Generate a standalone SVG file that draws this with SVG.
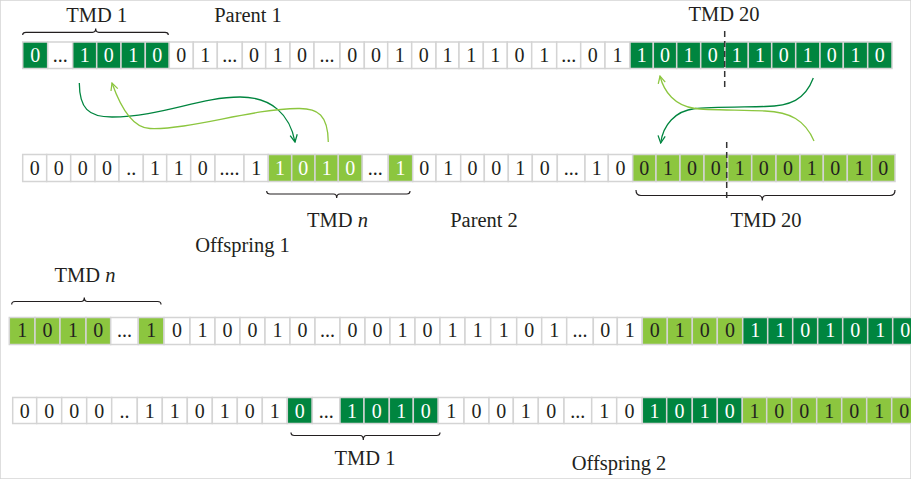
<svg xmlns="http://www.w3.org/2000/svg" width="911" height="479" viewBox="0 0 911 479">
<style>
rect{stroke:#d4d4d4;stroke-width:1.5}
.w{fill:#fff}.d{fill:#00853f}.l{fill:#8cc63f}
text{font-family:"Liberation Serif","Times New Roman",serif;text-anchor:middle}
.cells text{font-size:20px;fill:#231f20}
.cells text.v{fill:#fff}
.lab{font-size:20.5px;fill:#231f20}
.br{fill:none;stroke:#231f20;stroke-width:1.2}
.dash{stroke:#333;stroke-width:1.5;stroke-dasharray:6 4}
.cd{fill:none;stroke:#00853f;stroke-width:1.3}
.cl{fill:none;stroke:#8cc63f;stroke-width:1.3}
</style>
<defs>
<marker id="ad" viewBox="0 0 10 10" refX="9" refY="5" markerWidth="9" markerHeight="9" markerUnits="userSpaceOnUse" orient="auto"><path d="M1,1 L9,5 L1,9" fill="none" stroke="#00853f" stroke-width="1.4"/></marker>
<marker id="al" viewBox="0 0 10 10" refX="9" refY="5" markerWidth="9" markerHeight="9" markerUnits="userSpaceOnUse" orient="auto"><path d="M1,1 L9,5 L1,9" fill="none" stroke="#8cc63f" stroke-width="1.4"/></marker>
</defs>
<rect x="0" y="0" width="911" height="479" fill="#fff" stroke="none"/>

<g id="row1" class="cells" transform="translate(0,42)">
<rect class="d" x="22.7" y="0" width="25" height="26.5"/><text class="v" x="35.2" y="19.5">0</text>
<rect class="w" x="47.7" y="0" width="25" height="26.5"/><text x="60.2" y="19.5">...</text>
<rect class="d" x="72.7" y="0" width="24" height="26.5"/><text class="v" x="84.7" y="19.5">1</text>
<rect class="d" x="96.7" y="0" width="24.3" height="26.5"/><text class="v" x="108.85" y="19.5">0</text>
<rect class="d" x="121" y="0" width="24.3" height="26.5"/><text class="v" x="133.15" y="19.5">1</text>
<rect class="d" x="145.3" y="0" width="24" height="26.5"/><text class="v" x="157.3" y="19.5">0</text>
<rect class="w" x="169.3" y="0" width="24" height="26.5"/><text x="181.3" y="19.5">0</text>
<rect class="w" x="193.3" y="0" width="24" height="26.5"/><text x="205.3" y="19.5">1</text>
<rect class="w" x="217.3" y="0" width="25" height="26.5"/><text x="229.8" y="19.5">...</text>
<rect class="w" x="242.3" y="0" width="23.4" height="26.5"/><text x="254" y="19.5">0</text>
<rect class="w" x="265.7" y="0" width="24.3" height="26.5"/><text x="277.85" y="19.5">1</text>
<rect class="w" x="290" y="0" width="24" height="26.5"/><text x="302" y="19.5">0</text>
<rect class="w" x="314" y="0" width="26" height="26.5"/><text x="327" y="19.5">...</text>
<rect class="w" x="340" y="0" width="24.3" height="26.5"/><text x="352.15" y="19.5">0</text>
<rect class="w" x="364.3" y="0" width="23.4" height="26.5"/><text x="376" y="19.5">0</text>
<rect class="w" x="387.7" y="0" width="24" height="26.5"/><text x="399.7" y="19.5">1</text>
<rect class="w" x="411.7" y="0" width="24.3" height="26.5"/><text x="423.85" y="19.5">0</text>
<rect class="w" x="436" y="0" width="23" height="26.5"/><text x="447.5" y="19.5">1</text>
<rect class="w" x="459" y="0" width="24.3" height="26.5"/><text x="471.15" y="19.5">1</text>
<rect class="w" x="483.3" y="0" width="24" height="26.5"/><text x="495.3" y="19.5">1</text>
<rect class="w" x="507.3" y="0" width="24.4" height="26.5"/><text x="519.5" y="19.5">0</text>
<rect class="w" x="531.7" y="0" width="25" height="26.5"/><text x="544.2" y="19.5">1</text>
<rect class="w" x="556.7" y="0" width="24" height="26.5"/><text x="568.7" y="19.5">...</text>
<rect class="w" x="580.7" y="0" width="24.3" height="26.5"/><text x="592.85" y="19.5">0</text>
<rect class="w" x="605" y="0" width="25" height="26.5"/><text x="617.5" y="19.5">1</text>
<rect class="d" x="630" y="0" width="23.3" height="26.5"/><text class="v" x="641.65" y="19.5">1</text>
<rect class="d" x="653.3" y="0" width="23.4" height="26.5"/><text class="v" x="665" y="19.5">0</text>
<rect class="d" x="676.7" y="0" width="24" height="26.5"/><text class="v" x="688.7" y="19.5">1</text>
<rect class="d" x="700.7" y="0" width="24.3" height="26.5"/><text class="v" x="712.85" y="19.5">0</text>
<rect class="d" x="725" y="0" width="23.3" height="26.5"/><text class="v" x="736.65" y="19.5">1</text>
<rect class="d" x="748.3" y="0" width="23.4" height="26.5"/><text class="v" x="760" y="19.5">1</text>
<rect class="d" x="771.7" y="0" width="24" height="26.5"/><text class="v" x="783.7" y="19.5">0</text>
<rect class="d" x="795.7" y="0" width="24.3" height="26.5"/><text class="v" x="807.85" y="19.5">1</text>
<rect class="d" x="820" y="0" width="23.3" height="26.5"/><text class="v" x="831.65" y="19.5">0</text>
<rect class="d" x="843.3" y="0" width="24.4" height="26.5"/><text class="v" x="855.5" y="19.5">1</text>
<rect class="d" x="867.7" y="0" width="24.3" height="26.5"/><text class="v" x="879.85" y="19.5">0</text>
</g>

<g id="row2" class="cells" transform="translate(0,154.5)">
<rect class="w" x="22.7" y="0" width="24" height="27"/><text x="34.7" y="20.5">0</text>
<rect class="w" x="46.7" y="0" width="24" height="27"/><text x="58.7" y="20.5">0</text>
<rect class="w" x="70.7" y="0" width="24.3" height="27"/><text x="82.85" y="20.5">0</text>
<rect class="w" x="95" y="0" width="24" height="27"/><text x="107" y="20.5">0</text>
<rect class="w" x="119" y="0" width="24.3" height="27"/><text x="131.15" y="20.5">..</text>
<rect class="w" x="143.3" y="0" width="23.4" height="27"/><text x="155" y="20.5">1</text>
<rect class="w" x="166.7" y="0" width="24" height="27"/><text x="178.7" y="20.5">1</text>
<rect class="w" x="190.7" y="0" width="24.3" height="27"/><text x="202.85" y="20.5">0</text>
<rect class="w" x="215" y="0" width="29" height="27"/><text x="229.5" y="20.5">....</text>
<rect class="w" x="244" y="0" width="24.3" height="27"/><text x="256.15" y="20.5">1</text>
<rect class="l" x="268.3" y="0" width="23.4" height="27"/><text class="v" x="280" y="20.5">1</text>
<rect class="l" x="291.7" y="0" width="23.3" height="27"/><text class="v" x="303.35" y="20.5">0</text>
<rect class="l" x="315" y="0" width="23.3" height="27"/><text class="v" x="326.65" y="20.5">1</text>
<rect class="l" x="338.3" y="0" width="24" height="27"/><text class="v" x="350.3" y="20.5">0</text>
<rect class="w" x="362.3" y="0" width="26" height="27"/><text x="375.3" y="20.5">...</text>
<rect class="l" x="388.3" y="0" width="24.4" height="27"/><text class="v" x="400.5" y="20.5">1</text>
<rect class="w" x="412.7" y="0" width="23.3" height="27"/><text x="424.35" y="20.5">0</text>
<rect class="w" x="436" y="0" width="24.7" height="27"/><text x="448.35" y="20.5">1</text>
<rect class="w" x="460.7" y="0" width="23.6" height="27"/><text x="472.5" y="20.5">0</text>
<rect class="w" x="484.3" y="0" width="24" height="27"/><text x="496.3" y="20.5">0</text>
<rect class="w" x="508.3" y="0" width="24" height="27"/><text x="520.3" y="20.5">1</text>
<rect class="w" x="532.3" y="0" width="25" height="27"/><text x="544.8" y="20.5">0</text>
<rect class="w" x="557.3" y="0" width="27.7" height="27"/><text x="571.15" y="20.5">...</text>
<rect class="w" x="585" y="0" width="23.3" height="27"/><text x="596.65" y="20.5">1</text>
<rect class="w" x="608.3" y="0" width="24.4" height="27"/><text x="620.5" y="20.5">0</text>
<rect class="l" x="632.7" y="0" width="23.3" height="27"/><text x="644.35" y="20.5">0</text>
<rect class="l" x="656" y="0" width="24" height="27"/><text x="668" y="20.5">1</text>
<rect class="l" x="680" y="0" width="24" height="27"/><text x="692" y="20.5">0</text>
<rect class="l" x="704" y="0" width="23.7" height="27"/><text x="715.85" y="20.5">0</text>
<rect class="l" x="727.7" y="0" width="24" height="27"/><text x="739.7" y="20.5">1</text>
<rect class="l" x="751.7" y="0" width="24.3" height="27"/><text x="763.85" y="20.5">0</text>
<rect class="l" x="776" y="0" width="24" height="27"/><text x="788" y="20.5">0</text>
<rect class="l" x="800" y="0" width="23.3" height="27"/><text x="811.65" y="20.5">1</text>
<rect class="l" x="823.3" y="0" width="24" height="27"/><text x="835.3" y="20.5">0</text>
<rect class="l" x="847.3" y="0" width="24.4" height="27"/><text x="859.5" y="20.5">1</text>
<rect class="l" x="871.7" y="0" width="23.3" height="27"/><text x="883.35" y="20.5">0</text>
</g>

<g id="row3" class="cells" transform="translate(0,317.5)">
<rect class="l" x="9.3" y="0" width="25.7" height="27"/><text x="22.15" y="19.5">1</text>
<rect class="l" x="35" y="0" width="25" height="27"/><text x="47.5" y="19.5">0</text>
<rect class="l" x="60" y="0" width="26" height="27"/><text x="73" y="19.5">1</text>
<rect class="l" x="86" y="0" width="24.7" height="27"/><text x="98.35" y="19.5">0</text>
<rect class="w" x="110.7" y="0" width="27.6" height="27"/><text x="124.5" y="19.5">...</text>
<rect class="l" x="138.3" y="0" width="25.7" height="27"/><text x="151.15" y="19.5">1</text>
<rect class="w" x="164" y="0" width="26" height="27"/><text x="177" y="19.5">0</text>
<rect class="w" x="190" y="0" width="25" height="27"/><text x="202.5" y="19.5">1</text>
<rect class="w" x="215" y="0" width="25" height="27"/><text x="227.5" y="19.5">0</text>
<rect class="w" x="240" y="0" width="25" height="27"/><text x="252.5" y="19.5">0</text>
<rect class="w" x="265" y="0" width="25" height="27"/><text x="277.5" y="19.5">1</text>
<rect class="w" x="290" y="0" width="25" height="27"/><text x="302.5" y="19.5">0</text>
<rect class="w" x="315" y="0" width="25" height="27"/><text x="327.5" y="19.5">...</text>
<rect class="w" x="340" y="0" width="25" height="27"/><text x="352.5" y="19.5">0</text>
<rect class="w" x="365" y="0" width="25" height="27"/><text x="377.5" y="19.5">0</text>
<rect class="w" x="390" y="0" width="25" height="27"/><text x="402.5" y="19.5">1</text>
<rect class="w" x="415" y="0" width="25" height="27"/><text x="427.5" y="19.5">0</text>
<rect class="w" x="440" y="0" width="25" height="27"/><text x="452.5" y="19.5">1</text>
<rect class="w" x="465" y="0" width="25.7" height="27"/><text x="477.85" y="19.5">1</text>
<rect class="w" x="490.7" y="0" width="26" height="27"/><text x="503.7" y="19.5">1</text>
<rect class="w" x="516.7" y="0" width="25" height="27"/><text x="529.2" y="19.5">0</text>
<rect class="w" x="541.7" y="0" width="25" height="27"/><text x="554.2" y="19.5">1</text>
<rect class="w" x="566.7" y="0" width="26.6" height="27"/><text x="580" y="19.5">...</text>
<rect class="w" x="593.3" y="0" width="24" height="27"/><text x="605.3" y="19.5">0</text>
<rect class="w" x="617.3" y="0" width="25" height="27"/><text x="629.8" y="19.5">1</text>
<rect class="l" x="642.3" y="0" width="25" height="27"/><text x="654.8" y="19.5">0</text>
<rect class="l" x="667.3" y="0" width="25" height="27"/><text x="679.8" y="19.5">1</text>
<rect class="l" x="692.3" y="0" width="25" height="27"/><text x="704.8" y="19.5">0</text>
<rect class="l" x="717.3" y="0" width="25.4" height="27"/><text x="730" y="19.5">0</text>
<rect class="d" x="742.7" y="0" width="25" height="27"/><text class="v" x="755.2" y="19.5">1</text>
<rect class="d" x="767.7" y="0" width="25" height="27"/><text class="v" x="780.2" y="19.5">1</text>
<rect class="d" x="792.7" y="0" width="25" height="27"/><text class="v" x="805.2" y="19.5">0</text>
<rect class="d" x="817.7" y="0" width="25" height="27"/><text class="v" x="830.2" y="19.5">1</text>
<rect class="d" x="842.7" y="0" width="25" height="27"/><text class="v" x="855.2" y="19.5">0</text>
<rect class="d" x="867.7" y="0" width="25" height="27"/><text class="v" x="880.2" y="19.5">1</text>
<rect class="d" x="892.7" y="0" width="25.3" height="27"/><text class="v" x="905.35" y="19.5">0</text>
</g>

<g id="row4" class="cells" transform="translate(0,397.5)">
<rect class="w" x="12.7" y="0" width="24" height="26"/><text x="24.7" y="20">0</text>
<rect class="w" x="36.7" y="0" width="25" height="26"/><text x="49.2" y="20">0</text>
<rect class="w" x="61.7" y="0" width="25" height="26"/><text x="74.2" y="20">0</text>
<rect class="w" x="86.7" y="0" width="25" height="26"/><text x="99.2" y="20">0</text>
<rect class="w" x="111.7" y="0" width="25.6" height="26"/><text x="124.5" y="20">..</text>
<rect class="w" x="137.3" y="0" width="25" height="26"/><text x="149.8" y="20">1</text>
<rect class="w" x="162.3" y="0" width="25" height="26"/><text x="174.8" y="20">1</text>
<rect class="w" x="187.3" y="0" width="25" height="26"/><text x="199.8" y="20">0</text>
<rect class="w" x="212.3" y="0" width="25" height="26"/><text x="224.8" y="20">1</text>
<rect class="w" x="237.3" y="0" width="25" height="26"/><text x="249.8" y="20">0</text>
<rect class="w" x="262.3" y="0" width="25" height="26"/><text x="274.8" y="20">1</text>
<rect class="d" x="287.3" y="0" width="25" height="26"/><text class="v" x="299.8" y="20">0</text>
<rect class="w" x="312.3" y="0" width="27.7" height="26"/><text x="326.15" y="20">...</text>
<rect class="d" x="340" y="0" width="24" height="26"/><text class="v" x="352" y="20">1</text>
<rect class="d" x="364" y="0" width="25.3" height="26"/><text class="v" x="376.65" y="20">0</text>
<rect class="d" x="389.3" y="0" width="24" height="26"/><text class="v" x="401.3" y="20">1</text>
<rect class="d" x="413.3" y="0" width="25" height="26"/><text class="v" x="425.8" y="20">0</text>
<rect class="w" x="438.3" y="0" width="25.7" height="26"/><text x="451.15" y="20">1</text>
<rect class="w" x="464" y="0" width="25" height="26"/><text x="476.5" y="20">0</text>
<rect class="w" x="489" y="0" width="24.3" height="26"/><text x="501.15" y="20">0</text>
<rect class="w" x="513.3" y="0" width="25" height="26"/><text x="525.8" y="20">1</text>
<rect class="w" x="538.3" y="0" width="25.7" height="26"/><text x="551.15" y="20">0</text>
<rect class="w" x="564" y="0" width="27.7" height="26"/><text x="577.85" y="20">...</text>
<rect class="w" x="591.7" y="0" width="25" height="26"/><text x="604.2" y="20">1</text>
<rect class="w" x="616.7" y="0" width="25.6" height="26"/><text x="629.5" y="20">0</text>
<rect class="d" x="642.3" y="0" width="24.4" height="26"/><text class="v" x="654.5" y="20">1</text>
<rect class="d" x="666.7" y="0" width="25.6" height="26"/><text class="v" x="679.5" y="20">0</text>
<rect class="d" x="692.3" y="0" width="25" height="26"/><text class="v" x="704.8" y="20">1</text>
<rect class="d" x="717.3" y="0" width="25" height="26"/><text class="v" x="729.8" y="20">0</text>
<rect class="l" x="742.3" y="0" width="24.4" height="26"/><text x="754.5" y="20">1</text>
<rect class="l" x="766.7" y="0" width="25" height="26"/><text x="779.2" y="20">0</text>
<rect class="l" x="791.7" y="0" width="25" height="26"/><text x="804.2" y="20">0</text>
<rect class="l" x="816.7" y="0" width="25" height="26"/><text x="829.2" y="20">1</text>
<rect class="l" x="841.7" y="0" width="25" height="26"/><text x="854.2" y="20">0</text>
<rect class="l" x="866.7" y="0" width="25" height="26"/><text x="879.2" y="20">1</text>
<rect class="l" x="891.7" y="0" width="25" height="26"/><text x="904.2" y="20">0</text>
</g>

<g id="braces">
<path class="br" d="M22.7,35 Q22.7,32.3 26,32.3 L92.5,32.3 Q95.7,32.3 95.7,28.5 Q95.7,32.3 98.9,32.3 L165,32.3 Q168.3,32.3 168.3,35"/>
<path class="br" d="M266.7,191 Q266.7,194 270,194 L333.5,194 Q336.7,194 336.7,198 Q336.7,194 339.9,194 L406.7,194 Q410,194 410,191"/>
<path class="br" d="M636,190 Q636,195.5 641,195.5 L758.5,195.5 Q762.3,195.5 762.3,200.5 Q762.3,195.5 766.1,195.5 L890,195.5 Q895,195.5 895,190"/>
<path class="br" d="M11.7,304.5 Q11.7,301.5 15,301.5 L81.1,301.5 Q84.3,301.5 84.3,297.5 Q84.3,301.5 87.5,301.5 L157.7,301.5 Q161,301.5 161,304.5"/>
<path class="br" d="M291,432.5 Q291,435.5 294.3,435.5 L360.1,435.5 Q363.3,435.5 363.3,440 Q363.3,435.5 366.5,435.5 L436.7,435.5 Q440,435.5 440,432.5"/>
</g>

<g id="labels" class="lab">
<text x="96.7" y="21.5">TMD 1</text>
<text x="248" y="21.5">Parent 1</text>
<text x="724" y="21">TMD 20</text>
<text x="337.5" y="226.5">TMD <tspan font-style="italic">n</tspan></text>
<text x="484" y="226.5">Parent 2</text>
<text x="766" y="226.5">TMD 20</text>
<text x="242.5" y="251.5">Offspring 1</text>
<text x="85" y="281.5">TMD <tspan font-style="italic">n</tspan></text>
<text x="365" y="465">TMD 1</text>
<text x="619" y="470">Offspring 2</text>
</g>

<g id="cuts">
<line class="dash" x1="724.7" y1="31" x2="724.7" y2="88"/>
<line class="dash" x1="726.7" y1="142" x2="726.7" y2="198"/>
</g>

<g id="connectors">
<path class="cd" marker-end="url(#ad)" d="M79.3,83 C79.5,108 88,117 112,117 C160,117 200,97 240,97 C272,97 290,115 295,142"/>
<path class="cl" marker-end="url(#al)" d="M328.3,142 C328,115 318,108 298,108.5 C250,109 190,130 150,128.5 C130,128 118,100 112,83"/>
<path class="cd" marker-end="url(#ad)" d="M813.3,78 C805,100 790,106 765,106.5 C740,107 705,107 695,108.5 C675,111 663,125 660.7,143"/>
<path class="cl" marker-end="url(#al)" d="M814,141 C805,120 790,112 765,111 C740,110 705,110 695,108.5 C675,106 664,92 660,76"/>
</g>
</svg>
